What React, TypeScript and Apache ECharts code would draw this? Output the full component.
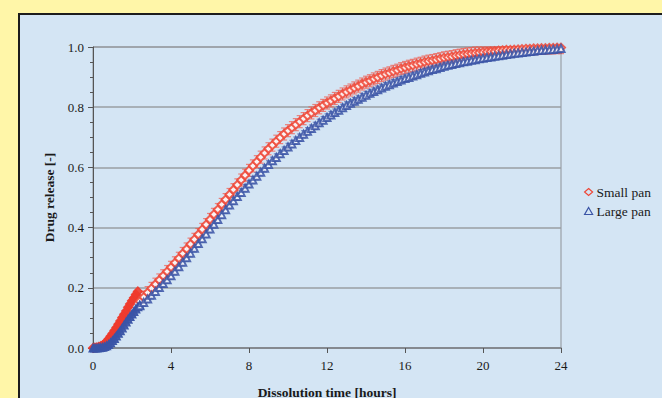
import React, { useEffect, useRef } from "react";
import * as echarts from "echarts";

// Early, densely sampled part (every 0.1 h)
const redEarly = [0.000, 0.001, 0.002, 0.004, 0.006, 0.010, 0.015, 0.022, 0.030, 0.039, 0.048, 0.058, 0.068, 0.079, 0.090, 0.101, 0.112, 0.123, 0.135, 0.146, 0.157, 0.167, 0.178, 0.188];
const blueEarly = [0.000, 0.000, 0.000, 0.001, 0.002, 0.003, 0.005, 0.008, 0.012, 0.018, 0.025, 0.032, 0.040, 0.049, 0.058, 0.067, 0.077, 0.087, 0.096, 0.105, 0.113, 0.122, 0.130, 0.137, 0.143];

// Later part (every 0.2 h from 2.4 h to 24 h)
const redLate = [
  0.155, 0.169, 0.184, 0.198,
  0.212, 0.226, 0.240, 0.254, 0.268,
  0.283, 0.298, 0.314, 0.329, 0.345,
  0.361, 0.377, 0.394, 0.410, 0.427,
  0.444, 0.460, 0.477, 0.493, 0.510,
  0.526, 0.542, 0.558, 0.574, 0.590,
  0.605, 0.619, 0.634, 0.648, 0.662,
  0.674, 0.687, 0.699, 0.711, 0.722,
  0.732, 0.742, 0.752, 0.762, 0.772,
  0.781, 0.789, 0.798, 0.806, 0.814,
  0.821, 0.829, 0.836, 0.844, 0.851,
  0.857, 0.864, 0.870, 0.877, 0.883,
  0.888, 0.894, 0.899, 0.905, 0.910,
  0.914, 0.919, 0.923, 0.928, 0.932,
  0.936, 0.939, 0.943, 0.946, 0.950,
  0.953, 0.955, 0.958, 0.961, 0.964,
  0.966, 0.968, 0.971, 0.973, 0.975,
  0.977, 0.978, 0.980, 0.981, 0.983,
  0.984, 0.985, 0.986, 0.988, 0.989,
  0.990, 0.990, 0.991, 0.992, 0.993,
  0.994, 0.994, 0.995, 0.995, 0.996,
  0.996, 0.997, 0.997, 0.998, 0.998,
];
const blueLate = [
  0.140, 0.151, 0.163, 0.175,
  0.188, 0.201, 0.214, 0.227, 0.240,
  0.255, 0.270, 0.285, 0.300, 0.315,
  0.331, 0.347, 0.363, 0.379, 0.395,
  0.411, 0.427, 0.443, 0.459, 0.475,
  0.489, 0.503, 0.517, 0.531, 0.545,
  0.558, 0.571, 0.584, 0.597, 0.610,
  0.622, 0.633, 0.645, 0.656, 0.668,
  0.678, 0.689, 0.699, 0.710, 0.720,
  0.729, 0.738, 0.748, 0.757, 0.766,
  0.774, 0.782, 0.790, 0.798, 0.806,
  0.813, 0.820, 0.826, 0.833, 0.840,
  0.846, 0.852, 0.858, 0.864, 0.870,
  0.875, 0.880, 0.885, 0.890, 0.895,
  0.899, 0.904, 0.908, 0.913, 0.917,
  0.921, 0.925, 0.928, 0.932, 0.936,
  0.939, 0.942, 0.945, 0.948, 0.951,
  0.953, 0.956, 0.958, 0.961, 0.963,
  0.965, 0.967, 0.969, 0.971, 0.973,
  0.975, 0.977, 0.979, 0.980, 0.982,
  0.983, 0.985, 0.986, 0.988, 0.989,
  0.990, 0.991, 0.992, 0.993, 0.995,
];

const EARLY_STEP = 0.1;
const LATE_START = 2.4;
const LATE_STEP = 0.2;
const RED_ERR = 0.02;
const BLUE_ERR = 0.012;

const xTicks = [0, 4, 8, 12, 16, 20, 24];
const yTicks = [0, 0.2, 0.4, 0.6, 0.8, 1.0];

const seriesNames = ["Small pan", "Large pan"];

const RED = "#ef4636";
const BLUE = "#3a54a6";
const PANEL = "#d4e5f4";
const SERIF = "'Liberation Serif', 'Times New Roman', serif";

function points(early: number[], late: number[]) {
  const a = early.map((v, i) => [+(i * EARLY_STEP).toFixed(2), v]);
  const b = late.map((v, i) => [+(LATE_START + i * LATE_STEP).toFixed(2), v]);
  return { early: a, late: b };
}

function errorBarSeries(data: number[][], err: number, color: string, w: number) {
  return {
    type: "custom",
    silent: true,
    z: 1,
    data: data.map((d) => [d[0], d[1], err]),
    renderItem: (params: any, api: any) => {
      const x = api.value(0);
      const y = api.value(1);
      const e = api.value(2);
      const top = api.coord([x, Math.min(1.0, y + e)]);
      const bot = api.coord([x, y - e]);
      const style = { stroke: color, lineWidth: 1.2, opacity: 0.7 };
      return {
        type: "group",
        children: [
          { type: "line", shape: { x1: top[0], y1: top[1], x2: bot[0], y2: bot[1] }, style },
          { type: "line", shape: { x1: top[0] - w, y1: top[1], x2: top[0] + w, y2: top[1] }, style },
          { type: "line", shape: { x1: bot[0] - w, y1: bot[1], x2: bot[0] + w, y2: bot[1] }, style },
        ],
      };
    },
  };
}

export default function App() {
  const ref = useRef<HTMLDivElement>(null);
  useEffect(() => {
    if (!ref.current) return;
    const chart = echarts.init(ref.current, null, { renderer: "svg" });
    const red = points(redEarly, redLate);
    const blue = points(blueEarly, blueLate);
    const scatterBase = (name: string, symbol: string, color: string, size: number, op: number) => ({
      name,
      type: "scatter",
      symbol,
      symbolSize: size,
      itemStyle: { color, borderColor: color, borderWidth: 1.2, opacity: op },
      z: 2,
    });
    chart.setOption({
      animation: false,
      backgroundColor: "#fff6a8",
      graphic: [
        {
          type: "rect",
          z: -10,
          shape: { x: 19, y: 14, width: 700, height: 420 },
          style: { fill: PANEL, stroke: "#1c1c1c", lineWidth: 2 },
        },
      ],
      grid: {
        left: 93,
        right: 101,
        top: 47,
        bottom: 50,
        outerBoundsMode: "none",
        containLabel: false,
        show: true,
        borderColor: "#8e9297",
        borderWidth: 1,
        backgroundColor: "transparent",
      },
      legend: {
        orient: "vertical",
        left: 579,
        top: 180,
        itemGap: 5,
        itemWidth: 8,
        itemHeight: 7,
        data: [
          { name: seriesNames[0], icon: "diamond", itemStyle: { color: PANEL, borderColor: RED, borderWidth: 1.2, opacity: 1 } },
          { name: seriesNames[1], icon: "triangle", itemStyle: { color: PANEL, borderColor: BLUE, borderWidth: 1.2, opacity: 1 } },
        ],
        textStyle: { fontFamily: SERIF, fontSize: 13.5, color: "#1a1a1a", padding: [0, 0, 0, -1] },
      },
      xAxis: {
        type: "value",
        min: xTicks[0],
        max: xTicks[xTicks.length - 1],
        interval: 4,
        name: "Dissolution time [hours]",
        nameLocation: "middle",
        nameGap: 37,
        nameTextStyle: { fontFamily: SERIF, fontSize: 13.5, fontWeight: "bold", color: "#1a1a1a" },
        axisLine: { show: true, lineStyle: { color: "#7d8186", width: 1.5 } },
        axisTick: { show: true, length: 5, lineStyle: { color: "#555" } },
        axisLabel: { fontFamily: SERIF, fontSize: 13, color: "#1a1a1a", margin: 11 },
        splitLine: { show: false },
      },
      yAxis: {
        type: "value",
        min: yTicks[0],
        max: yTicks[yTicks.length - 1],
        interval: 0.2,
        name: "Drug release [-]",
        nameLocation: "middle",
        nameGap: 36,
        nameTextStyle: { fontFamily: SERIF, fontSize: 13.5, fontWeight: "bold", color: "#1a1a1a" },
        axisLine: { show: true, lineStyle: { color: "#555", width: 1 } },
        axisTick: { show: true, length: 5, lineStyle: { color: "#555" } },
        minorTick: { show: true, splitNumber: 4, length: 3, lineStyle: { color: "#555" } },
        axisLabel: {
          fontFamily: SERIF,
          fontSize: 13,
          color: "#1a1a1a",
          margin: 9,
          formatter: (v: number) => v.toFixed(1),
        },
        splitLine: { show: true, lineStyle: { color: "#9a9ea3", width: 1.5 } },
      },
      series: [
        errorBarSeries(red.late, RED_ERR, "#f0584c", 3),
        { ...scatterBase(seriesNames[0], "diamond", "#ee3a2c", 9, 0.9), data: red.early },
        { ...scatterBase(seriesNames[0], "emptyDiamond", RED, 8, 0.85), data: red.late },
        errorBarSeries(blue.late, BLUE_ERR, "#4a62b0", 2.5),
        { ...scatterBase(seriesNames[1], "triangle", BLUE, 8, 0.95), data: blue.early },
        { ...scatterBase(seriesNames[1], "emptyTriangle", BLUE, 7, 0.85), data: blue.late },
      ],
    });
    return () => chart.dispose();
  }, []);
  return (
    <div
      ref={ref}
      style={{ position: "fixed", left: 0, top: 0, width: 662, height: 398 }}
    />
  );
}
